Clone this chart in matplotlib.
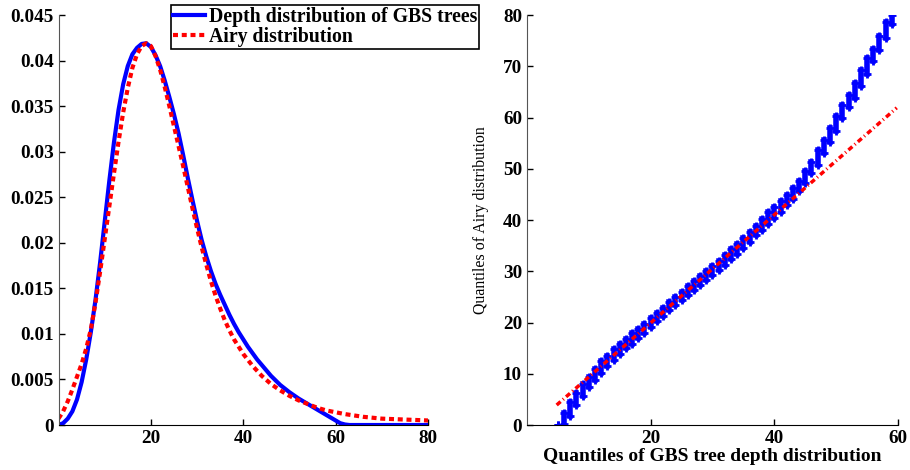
import numpy as np
import matplotlib
matplotlib.use('Agg')
import matplotlib.pyplot as plt

plt.rcParams['font.family'] = ['Liberation Serif', 'DejaVu Serif']
plt.rcParams['font.weight'] = 'bold'
plt.rcParams['axes.unicode_minus'] = False

# Left panel: density curves
depth_x = [0, 1, 2, 3, 4, 5, 6, 7, 8, 9, 10, 11, 12, 13, 14, 15, 16, 17, 18, 19,
           20, 21, 22, 23, 24, 25, 26, 27, 28, 29, 30, 31, 32, 33, 34, 35, 36, 37,
           38, 39, 40, 41, 42, 43, 44, 45, 46, 47, 48, 49, 50, 52, 54, 56, 58, 59,
           60, 61, 62, 63, 70, 80]
depth_y = [0, 0.0002, 0.0007, 0.0015, 0.0028, 0.0047, 0.0072, 0.0102, 0.0137, 0.0178,
           0.0223, 0.0268, 0.0310, 0.0346, 0.0374, 0.0394, 0.0407, 0.0414, 0.04183, 0.0419,
           0.0415, 0.0406, 0.0394, 0.0378, 0.0360, 0.0341, 0.0320, 0.0296, 0.0271, 0.0247,
           0.0224, 0.0203, 0.0185, 0.0169, 0.0155, 0.0143, 0.0132, 0.0121, 0.0111, 0.0102,
           0.0094, 0.0086, 0.0079, 0.0072, 0.0066, 0.0060, 0.0054, 0.0049, 0.0044, 0.0040,
           0.0036, 0.0029, 0.0023, 0.0017, 0.0011, 0.0008, 0.0005, 0.0002, 0.00006, 0,
           0, 0]

airy_x = [0, 1, 2, 3, 4, 5, 6, 7, 8, 9, 10, 11, 12, 13, 14, 15, 16, 17, 18, 19,
          20, 21, 22, 23, 24, 25, 26, 27, 28, 29, 30, 31, 32, 33, 34, 35, 36, 37,
          38, 39, 40, 42, 44, 46, 48, 50, 52, 54, 56, 58, 60, 62, 66, 70, 75, 80]
airy_y = [0.0007, 0.0015, 0.0026, 0.0039, 0.0053, 0.0067, 0.0084, 0.0105, 0.0134, 0.0168,
          0.0204, 0.0240, 0.0276, 0.0311, 0.0343, 0.0370, 0.0392, 0.0407, 0.0416, 0.0419,
          0.0416, 0.0405, 0.0390, 0.0371, 0.0350, 0.0328, 0.0306, 0.0284, 0.0261, 0.0238,
          0.0216, 0.0195, 0.0176, 0.0158, 0.0142, 0.0128, 0.0115, 0.0104, 0.0094, 0.0086,
          0.0078, 0.0065, 0.0054, 0.0045, 0.0038, 0.0032, 0.0027, 0.0023, 0.0019, 0.0016,
          0.0014, 0.0012, 0.0009, 0.0007, 0.0006, 0.0005]

# Right panel: QQ plot, range of Airy quantiles for each integer depth
qq_depth = list(range(5, 60))
qq_low = [0.0, 0.2, 1.8, 3.9, 5.7, 7.4, 8.8, 10.2, 11.5, 12.7, 13.8, 15.0, 15.9, 16.9,
          17.9, 19.1, 20.3, 21.3, 22.4, 23.4, 24.4, 25.4, 26.3, 27.3, 28.3, 29.3, 30.2,
          31.2, 32.3, 33.3, 34.5, 35.7, 37.0, 38.0, 39.2, 40.3, 41.5, 42.9, 44.2, 45.6,
          47.2, 49.1, 50.7, 53.1, 55.3, 57.4, 60.0, 62.0, 63.9, 66.1, 68.5, 71.1, 73.2,
          75.6, 78.2]
qq_high = [0.0, 2.3, 4.5, 6.3, 8.0, 9.4, 10.9, 12.4, 13.5, 14.8, 15.8, 16.7, 17.9, 18.7,
           19.7, 20.8, 21.9, 22.9, 24.0, 25.0, 26.0, 27.1, 28.1, 29.1, 30.0, 31.0, 32.1,
           33.2, 34.3, 35.3, 36.5, 37.7, 38.8, 40.2, 41.5, 42.5, 43.7, 44.9, 46.3, 47.7,
           49.5, 51.4, 53.7, 55.7, 57.9, 60.3, 62.4, 64.4, 66.7, 69.3, 71.7, 73.3, 75.9,
           78.6, 80.0]
ref_x = [4.8, 59.8]
ref_y = [3.9, 61.9]

fig = plt.figure(figsize=(9.1, 4.7), dpi=100)
ax1 = fig.add_axes([0.0643, 0.0957, 0.406, 0.8723])
ax2 = fig.add_axes([0.5791, 0.0957, 0.4077, 0.8723])

l1, = ax1.plot(depth_x, depth_y, color='#0000ff', linewidth=3)
l2, = ax1.plot(airy_x, airy_y, color='#ff0000', linewidth=3, linestyle=(0, (1.2, 0.9)))
ax1.set_xlim(0, 80)
ax1.set_ylim(0, 0.045)
ax1.set_xticks([20, 40, 60, 80])
ax1.set_yticks(np.arange(0, 0.0451, 0.005))
ax1.set_yticklabels(['0', '0.005', '0.01', '0.015', '0.02', '0.025', '0.03',
                     '0.035', '0.04', '0.045'])

leg = ax1.legend([l1, l2], ['Depth distribution of GBS trees', 'Airy distribution'],
                 loc='upper left', bbox_to_anchor=(0.188, 0.99),
                 bbox_transform=fig.transFigure, fontsize=14.2, frameon=True,
                 fancybox=False, framealpha=1, edgecolor='black', handlelength=1.6,
                 handletextpad=0.2, borderpad=0.1, labelspacing=0.0, borderaxespad=0)
leg.get_frame().set_linewidth(1.2)

for lo, hi, d in zip(qq_low, qq_high, qq_depth):
    ax2.plot([d, d], [lo, hi], color='#0000ff', linewidth=4)
ax2.plot(qq_depth, qq_low, '+', color='#0000ff', markersize=5.5, markeredgewidth=2)
ax2.plot(qq_depth, qq_high, '+', color='#0000ff', markersize=5.5, markeredgewidth=2)
ax2.plot(ref_x, ref_y, color='#ff0000', linewidth=2.5,
         linestyle=(0, (1.5, 0.9, 0.3, 0.9)))
ax2.set_xlim(0, 60)
ax2.set_ylim(0, 80)
ax2.set_xticks([20, 40, 60])
ax2.set_yticks(range(0, 81, 10))
ax2.set_xlabel('Quantiles of GBS tree depth distribution', fontsize=14,
               fontweight='bold', labelpad=1)
ax2.set_ylabel('Quantiles of Airy distribution', fontsize=11.4, fontweight='normal',
               labelpad=10)

for ax in (ax1, ax2):
    ax.spines['top'].set_visible(False)
    ax.spines['right'].set_visible(False)
    ax.spines['left'].set_color('#555555')
    ax.tick_params(direction='in', length=4, labelsize=13.8, width=1)
    for lab in ax.get_xticklabels() + ax.get_yticklabels():
        lab.set_fontweight('bold')

fig.savefig('out.png', dpi=100)
